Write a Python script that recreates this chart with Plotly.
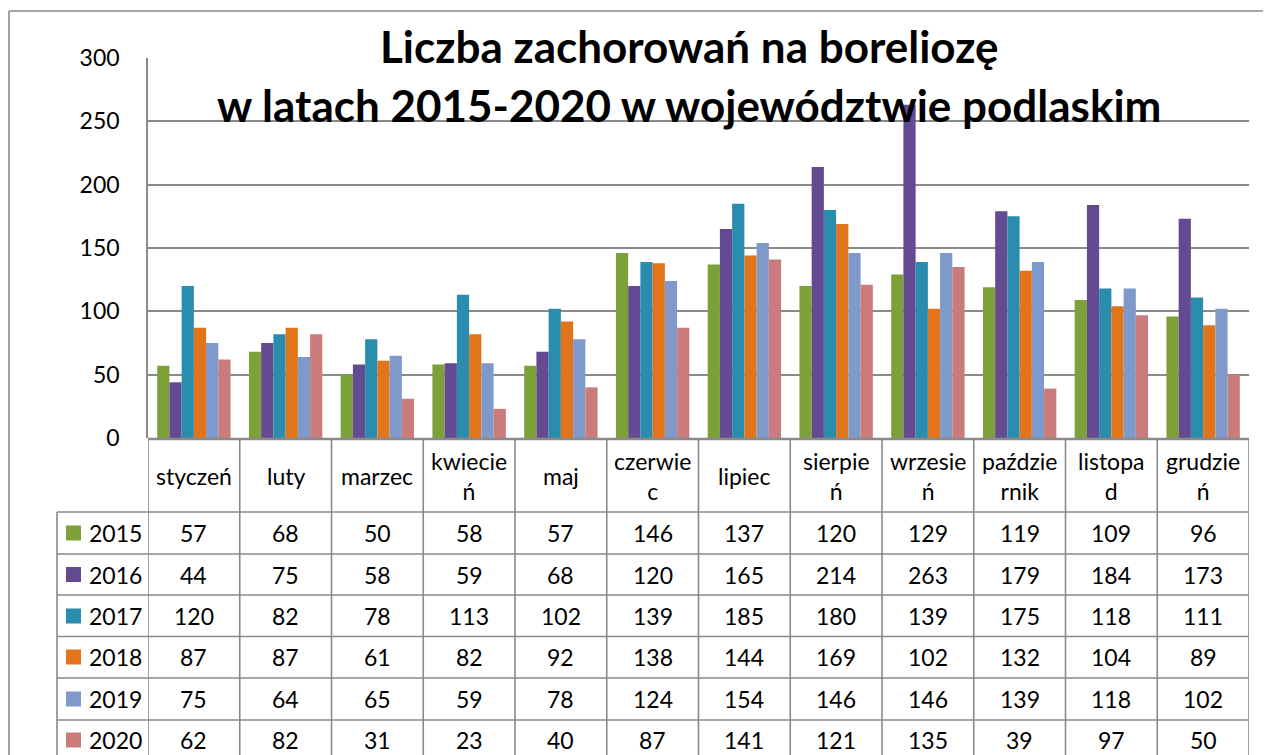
import plotly.graph_objects as go

W, H = 1271, 755

months = ["styczeń", "luty", "marzec", "kwiecień", "maj", "czerwiec", "lipiec",
          "sierpień", "wrzesień", "październik", "listopad", "grudzień"]
month_labels = ["styczeń", "luty", "marzec", "kwiecie<br>ń", "maj", "czerwie<br>c",
                "lipiec", "sierpie<br>ń", "wrzesie<br>ń", "paździe<br>rnik",
                "listopa<br>d", "grudzie<br>ń"]
years = ["2015", "2016", "2017", "2018", "2019", "2020"]
v2015 = [57, 68, 50, 58, 57, 146, 137, 120, 129, 119, 109, 96]
v2016 = [44, 75, 58, 59, 68, 120, 165, 214, 263, 179, 184, 173]
v2017 = [120, 82, 78, 113, 102, 139, 185, 180, 139, 175, 118, 111]
v2018 = [87, 87, 61, 82, 92, 138, 144, 169, 102, 132, 104, 89]
v2019 = [75, 64, 65, 59, 78, 124, 154, 146, 146, 139, 118, 102]
v2020 = [62, 82, 31, 23, 40, 87, 141, 121, 135, 39, 97, 50]
series = [v2015, v2016, v2017, v2018, v2019, v2020]
colors = ["#7DA138", "#634A91", "#2A8DAD", "#E2751C", "#7F99CB", "#CA7C7C"]
title1 = "Liczba zachorowań na boreliozę"
title2 = "w latach 2015-2020 w województwie podlaskim"

FONT = "Lato"
GRID = "#8a8a8a"
OFF = 8  # page body margin of the html page

def px(x):
    return (x - OFF) / W

def py(y):
    return 1 - (y - OFF) / H

fig = go.Figure()
for yr, vals, c in zip(years, series, colors):
    fig.add_trace(go.Bar(x=months, y=vals, name=yr, marker=dict(color=c, line=dict(width=0))))

plot_left, plot_right = 148, 1249
plot_top, plot_bot = 58, 438

fig.update_layout(
    width=W, height=H, autosize=False,
    margin=dict(l=0, r=0, t=0, b=0, pad=0),
    paper_bgcolor="white", plot_bgcolor="white",
    barmode="group", bargap=0.2, bargroupgap=0,
    showlegend=False,
    font=dict(family=FONT, size=22, color="#000000"),
    xaxis=dict(domain=[px(plot_left), px(plot_right)], range=[-0.5, 11.5],
               showticklabels=False, showgrid=False, zeroline=False,
               showline=False, ticks="", automargin=False),
    yaxis=dict(domain=[py(plot_bot), py(plot_top)], range=[0, 300],
               tickvals=[0, 50, 100, 150, 200, 250, 300],
               showgrid=True, gridcolor=GRID, gridwidth=1.6,
               zeroline=False, showline=True, linecolor=GRID, linewidth=1.6,
               ticks="outside", ticklen=22, tickcolor="rgba(0,0,0,0)",
               automargin=False,
               tickfont=dict(family=FONT, size=23, color="#000000")),
)

shapes = []
line = dict(color=GRID, width=1.6)
# outer frame
shapes.append(dict(type="line", xref="paper", yref="paper", x0=px(9), x1=1, y0=py(11), y1=py(11), line=line))
shapes.append(dict(type="line", xref="paper", yref="paper", x0=px(9), x1=px(9), y0=py(11), y1=0, line=line))
# x axis line
shapes.append(dict(type="line", xref="paper", yref="paper", x0=px(plot_left), x1=px(plot_right),
                   y0=py(439), y1=py(439), line=dict(color=GRID, width=2.5)))

row_edges = [512, 554, 595, 636.5, 678, 720, 770]
header_top = 440
# horizontal table lines
for i, yy in enumerate(row_edges[:-1]):
    shapes.append(dict(type="line", xref="paper", yref="paper", x0=px(57), x1=px(plot_right),
                       y0=py(yy), y1=py(yy), line=line))
# vertical lines at category boundaries
for k in range(13):
    shapes.append(dict(type="line", xref="x", yref="paper", x0=k - 0.5, x1=k - 0.5,
                       y0=py(header_top), y1=0, line=line))
# legend column left line
shapes.append(dict(type="line", xref="paper", yref="paper", x0=px(57), x1=px(57),
                   y0=py(row_edges[0]), y1=0, line=line))

annotations = []
# title
annotations.append(dict(text="<b>" + title1 + "</b>", xref="paper", yref="paper",
                        x=px(689), y=py(46), xanchor="center", yanchor="middle",
                        showarrow=False, font=dict(family=FONT, size=44, color="#000")))
annotations.append(dict(text="<b>" + title2 + "</b>", xref="paper", yref="paper",
                        x=px(689), y=py(105), xanchor="center", yanchor="middle",
                        showarrow=False, font=dict(family=FONT, size=44, color="#000")))
# month header
for k, lab in enumerate(month_labels):
    annotations.append(dict(text=lab, xref="x", yref="paper", x=k, y=py(476),
                            xanchor="center", yanchor="middle", showarrow=False,
                            font=dict(family=FONT, size=23, color="#000")))
# table rows
row_centers = [533, 574.5, 616, 657, 699, 740]
for r, (yr, vals, c) in enumerate(zip(years, series, colors)):
    yc = row_centers[r]
    shapes.append(dict(type="rect", xref="paper", yref="paper", x0=px(66), x1=px(81),
                       y0=py(yc - 7.5), y1=py(yc + 7.5), fillcolor=c, line=dict(width=0)))
    annotations.append(dict(text=yr, xref="paper", yref="paper", x=px(87), y=py(yc),
                            xanchor="left", yanchor="middle", showarrow=False,
                            font=dict(family=FONT, size=23, color="#000")))
    for k, v in enumerate(vals):
        annotations.append(dict(text=str(v), xref="x", yref="paper", x=k, y=py(yc),
                                xanchor="center", yanchor="middle", showarrow=False,
                                font=dict(family=FONT, size=23, color="#000")))

fig.update_layout(shapes=shapes, annotations=annotations)
fig.write_html("out.html")
